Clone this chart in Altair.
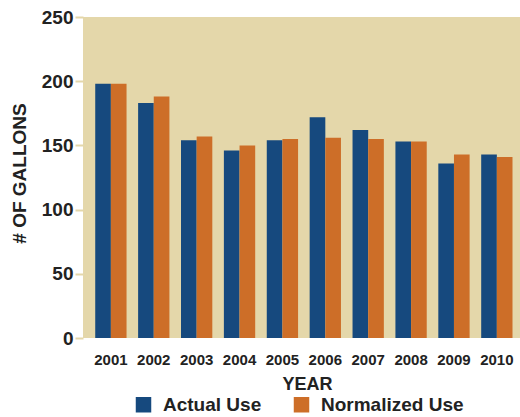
import altair as alt
import pandas as pd

years = ["2001", "2002", "2003", "2004", "2005", "2006", "2007", "2008", "2009", "2010"]
actual_use = [198, 183, 154, 146, 154, 172, 162, 153, 136, 143]
normalized_use = [198, 188, 157, 150, 155, 156, 155, 153, 143, 141]
series = ["Actual Use", "Normalized Use"]
colors = ["#16497E", "#CD6E28"]
y_ticks = [0, 50, 100, 150, 200, 250]

rows = []
for i, y in enumerate(years):
    rows.append({"year": y, "series": series[0], "value": actual_use[i]})
    rows.append({"year": y, "series": series[1], "value": normalized_use[i]})
df = pd.DataFrame(rows)

FONT = "Liberation Sans"

chart = alt.Chart(df).mark_bar().encode(
    x=alt.X("year:N", sort=years,
            scale=alt.Scale(paddingInner=0.27, paddingOuter=0.23, align=0.62),
            axis=alt.Axis(title="YEAR", labelAngle=0, ticks=False, domain=False,
                          labelFontSize=15, labelFontWeight="bold", labelColor="#222222",
                          labelFont=FONT, labelPadding=14,
                          titleFontSize=18, titleFontWeight="bold", titleColor="#222222",
                          titleFont=FONT, titlePadding=8, titleX=224)),
    xOffset=alt.XOffset("series:N", sort=series, scale=alt.Scale(paddingInner=0, paddingOuter=0)),
    y=alt.Y("value:Q", scale=alt.Scale(domain=[0, 250], nice=False),
            axis=alt.Axis(title="# OF GALLONS", values=y_ticks, grid=False, domain=False,
                          tickColor="#E4D7AA", tickSize=8, tickWidth=2,
                          labelFontSize=19, labelFontWeight="bold", labelColor="#222222",
                          labelFont=FONT, labelPadding=2,
                          titleFontSize=19, titleFontWeight="bold", titleColor="#222222",
                          titleFont=FONT, titlePadding=12, titleY=156)),
    color=alt.Color("series:N", sort=series,
                    scale=alt.Scale(domain=series, range=colors),
                    legend=alt.Legend(title=None, orient="none", direction="horizontal",
                                      legendX=51, legendY=378,
                                      symbolType="square", symbolSize=240,
                                      symbolStrokeWidth=0, symbolOpacity=1,
                                      labelFontSize=19, labelFontWeight="bold",
                                      labelColor="#222222", labelFont=FONT,
                                      columnPadding=30, labelOffset=10)),
).properties(
    width=437,
    height=321,
    autosize=alt.AutoSizeParams(type="none"),
    padding={"left": 83, "top": 17, "right": 0, "bottom": 79},
).configure(
    background="white"
).configure_view(
    fill="#E4D7AA", stroke=None
)

chart.save("out.html", embed_options={"renderer": "svg", "actions": False})
